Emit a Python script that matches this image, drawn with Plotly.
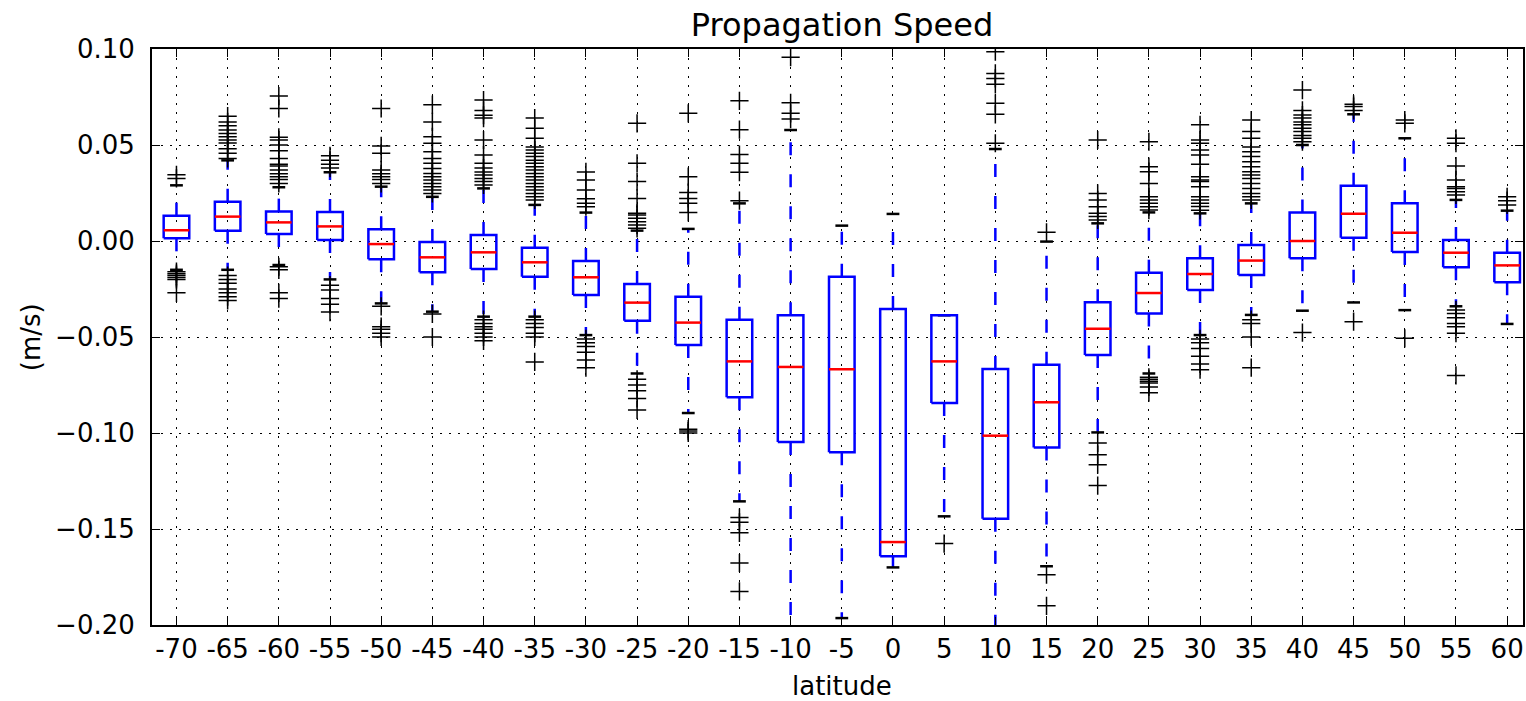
import plotly.graph_objects as go

# ---------------- data ----------------
latitudes = [-70, -65, -60, -55, -50, -45, -40, -35, -30, -25, -20, -15, -10, -5,
             0, 5, 10, 15, 20, 25, 30, 35, 40, 45, 50, 55, 60]

q1 = [0.0014, 0.0054, 0.0036, 0.0005, -0.0095, -0.0163, -0.0146, -0.0186, -0.0281,
      -0.0415, -0.0542, -0.0814, -0.1047, -0.1100, -0.1642, -0.0844, -0.1446, -0.1075,
      -0.0594, -0.0377, -0.0255, -0.0177, -0.0090, 0.0017, -0.0057, -0.0137, -0.0215]

median = [0.0056, 0.0127, 0.0097, 0.0076, -0.0016, -0.0085, -0.0059, -0.0111, -0.0189,
          -0.0321, -0.0425, -0.0627, -0.0656, -0.0668, -0.1568, -0.0627, -0.1014, -0.0840,
          -0.0457, -0.0271, -0.0172, -0.0102, 0.0000, 0.0142, 0.0043, -0.0061, -0.0127]

q3 = [0.0132, 0.0205, 0.0153, 0.0151, 0.0061, -0.0005, 0.0031, -0.0035, -0.0104,
      -0.0224, -0.0290, -0.0410, -0.0387, -0.0186, -0.0354, -0.0387, -0.0667, -0.0644,
      -0.0319, -0.0165, -0.0090, -0.0021, 0.0148, 0.0288, 0.0196, 0.0005, -0.0061]

whisker_low = [-0.0150, -0.0150, -0.0125, -0.0200, -0.0325, -0.0368, -0.0394, -0.0394, -0.0490,
               -0.0690, -0.0896, -0.1356, -0.2150, -0.1964, -0.1700, -0.1434, -0.2150, -0.1694,
               -0.0997, -0.0690, -0.0490, -0.0385, -0.0363, -0.0320, -0.0360, -0.0340, -0.0432]

whisker_high = [0.0290, 0.0420, 0.0280, 0.0358, 0.0283, 0.0230, 0.0274, 0.0188, 0.0148,
                0.0054, 0.0063, 0.0196, 0.0578, 0.0080, 0.0141, -0.0387, 0.0479, -0.0003,
                0.0092, 0.0149, 0.0144, 0.0196, 0.0500, 0.0660, 0.0535, 0.0214, 0.0158]

outliers = [
    [0.0345, 0.0326, -0.016, -0.017, -0.018, -0.019, -0.020, -0.027],
    [0.043, 0.0457, 0.048, 0.051, 0.0526, 0.0543, 0.056, 0.0578, 0.060, 0.062, 0.065,
     -0.018, -0.020, -0.022, -0.025, -0.027, -0.029, -0.031],
    [0.030, 0.032, 0.0335, 0.035, 0.037, 0.039, 0.040, 0.043, 0.047, 0.050, 0.0526, 0.054,
     0.069, 0.0755, -0.0134, -0.015, -0.027, -0.030],
    [0.038, 0.040, 0.042, 0.0444, -0.023, -0.0255, -0.030, -0.033, -0.037],
    [0.030, 0.032, 0.0335, 0.035, 0.037, 0.0457, 0.0495, 0.069,
     -0.034, -0.0446, -0.046, -0.048, -0.050],
    [0.0248, 0.0266, 0.0283, 0.030, 0.0318, 0.0335, 0.0352, 0.0378, 0.0405, 0.043, 0.0465,
     0.0509, 0.0543, 0.062, 0.071, -0.038, -0.050],
    [0.0292, 0.031, 0.0326, 0.0344, 0.036, 0.038, 0.0405, 0.0448, 0.0526, 0.064, 0.0655,
     0.068, 0.0734, -0.041, -0.043, -0.0446, -0.046, -0.048, -0.050, -0.052],
    [0.0214, 0.023, 0.0248, 0.0266, 0.0283, 0.030, 0.0318, 0.0335, 0.0352, 0.037, 0.0387,
     0.0405, 0.042, 0.044, 0.0457, 0.0474, 0.049, 0.0535, 0.0587, 0.064,
     -0.041, -0.043, -0.045, -0.048, -0.050, -0.063],
    [0.0179, 0.0196, 0.022, 0.0266, 0.0318, 0.036,
     -0.051, -0.053, -0.055, -0.058, -0.062, -0.066],
    [0.0066, 0.0083, 0.010, 0.0118, 0.0135, 0.0144, 0.0222, 0.031, 0.0405, 0.0613,
     -0.072, -0.075, -0.078, -0.082, -0.088],
    [0.0149, 0.0196, 0.0222, 0.0252, 0.0335, 0.0665, -0.098, -0.099, -0.100],
    [0.021, 0.0358, 0.0405, 0.045, 0.058, 0.073, -0.144, -0.1465, -0.152, -0.1677, -0.1825],
    [0.0635, 0.0665, 0.072, 0.0957],
    [],
    [],
    [-0.1576],
    [0.0509, 0.066, 0.0717, 0.0816, 0.0847, 0.0873, 0.0986],
    [0.0045, -0.1738, -0.190],
    [0.011, 0.0127, 0.0144, 0.0179, 0.0214, 0.0248, 0.0526,
     -0.1052, -0.1113, -0.1165, -0.1274],
    [0.0161, 0.0179, 0.0196, 0.0214, 0.023, 0.030, 0.0361, 0.0387, 0.0517,
     -0.071, -0.072, -0.073, -0.074, -0.076, -0.079],
    [0.016, 0.018, 0.0196, 0.0214, 0.023, 0.0283, 0.031, 0.0318, 0.0335, 0.040, 0.0448,
     0.0474, 0.0509, 0.0526, 0.0605, -0.051, -0.053, -0.056, -0.060, -0.064, -0.067],
    [0.0214, 0.023, 0.0248, 0.0274, 0.030, 0.0326, 0.0344, 0.0361, 0.0387, 0.0413, 0.044,
     0.0465, 0.049, 0.0535, 0.057, 0.063, -0.041, -0.043, -0.050, -0.066],
    [0.0517, 0.0535, 0.055, 0.057, 0.0587, 0.0605, 0.062, 0.064, 0.0656, 0.068, 0.0786,
     -0.0477],
    [0.068, 0.070, 0.0712, -0.042],
    [0.0613, 0.063, -0.0507],
    [0.024, 0.0257, 0.0274, 0.0283, 0.0318, 0.039, 0.0509, 0.0535,
     -0.036, -0.0377, -0.040, -0.043, -0.0446, -0.048, -0.070],
    [0.0188, 0.021, 0.023],
]

y_ticks = [-0.20, -0.15, -0.10, -0.05, 0.00, 0.05, 0.10]

# ---------------- build figure ----------------
FONT = "DejaVu Sans"
BOX_HALF = 0.25
CAP_HALF = 0.125
LW = 2.5

positions = list(range(len(latitudes)))

wx, wy = [], []   # whiskers
cx, cy = [], []   # caps
bx, by = [], []   # boxes
mx, my = [], []   # medians
ox, oy = [], []   # outliers

for i, p in enumerate(positions):
    wx += [p, p, None, p, p, None]
    wy += [q1[i], whisker_low[i], None, q3[i], whisker_high[i], None]
    cx += [p - CAP_HALF, p + CAP_HALF, None, p - CAP_HALF, p + CAP_HALF, None]
    cy += [whisker_low[i], whisker_low[i], None, whisker_high[i], whisker_high[i], None]
    bx += [p - BOX_HALF, p + BOX_HALF, p + BOX_HALF, p - BOX_HALF, p - BOX_HALF, None]
    by += [q1[i], q1[i], q3[i], q3[i], q1[i], None]
    mx += [p - BOX_HALF, p + BOX_HALF, None]
    my += [median[i], median[i], None]
    for v in outliers[i]:
        ox.append(p)
        oy.append(v)

fig = go.Figure()
fig.add_trace(go.Scatter(x=wx, y=wy, mode="lines", hoverinfo="skip",
                         line=dict(color="#0000ff", width=LW, dash="13px,19px")))
fig.add_trace(go.Scatter(x=cx, y=cy, mode="lines", hoverinfo="skip",
                         line=dict(color="black", width=LW)))
fig.add_trace(go.Scatter(x=bx, y=by, mode="lines", hoverinfo="skip",
                         line=dict(color="#0000ff", width=LW)))
fig.add_trace(go.Scatter(x=mx, y=my, mode="lines", hoverinfo="skip",
                         line=dict(color="#ff0000", width=LW)))
fig.add_trace(go.Scatter(x=ox, y=oy, mode="markers", hoverinfo="skip",
                         marker=dict(symbol="cross-thin", size=13,
                                     line=dict(color="black", width=1.5))))

W, H = 1526, 701
L, R, T, B = 152, 1, 49, 76
plot_w = W - L - R
plot_h = H - T - B

axis_common = dict(
    showline=True, linecolor="black", linewidth=2, mirror="ticks",
    ticks="inside", ticklen=8, tickwidth=1, tickcolor="black",
    showgrid=True, gridcolor="black", gridwidth=1, griddash="2px,7px",
    zeroline=False, tickfont=dict(family=FONT, size=26, color="black"),
)

fig.update_layout(
    width=W, height=H,
    margin=dict(l=L, r=R, t=T, b=B),
    plot_bgcolor="white", paper_bgcolor="white",
    showlegend=False,
    font=dict(family=FONT, color="black"),
    title=dict(text="Propagation Speed", font=dict(family=FONT, size=32, color="black"),
               xref="paper", x=(843 - L) / plot_w, xanchor="center",
               yref="container", y=1 - 24.5 / H, yanchor="middle"),
    xaxis=dict(range=[-0.478, 26.31], tickmode="array", tickvals=positions,
               ticktext=[str(v) for v in latitudes], **axis_common),
    yaxis=dict(range=[-0.2, 0.1], tickmode="array", tickvals=y_ticks,
               tickformat=".2f", ticklabelstandoff=10, **axis_common),
    annotations=[
        dict(text="(m/s)", xref="paper", yref="paper", x=(31 - L) / plot_w, y=0.5,
             xanchor="center", yanchor="middle", textangle=-90, showarrow=False,
             font=dict(family=FONT, size=26, color="black")),
        dict(text="latitude", xref="paper", yref="paper", x=(843 - L) / plot_w,
             y=-(686 - (T + plot_h)) / plot_h, xanchor="center", yanchor="middle",
             showarrow=False, font=dict(family=FONT, size=26, color="black")),
    ],
)

fig.write_html("out.html")
